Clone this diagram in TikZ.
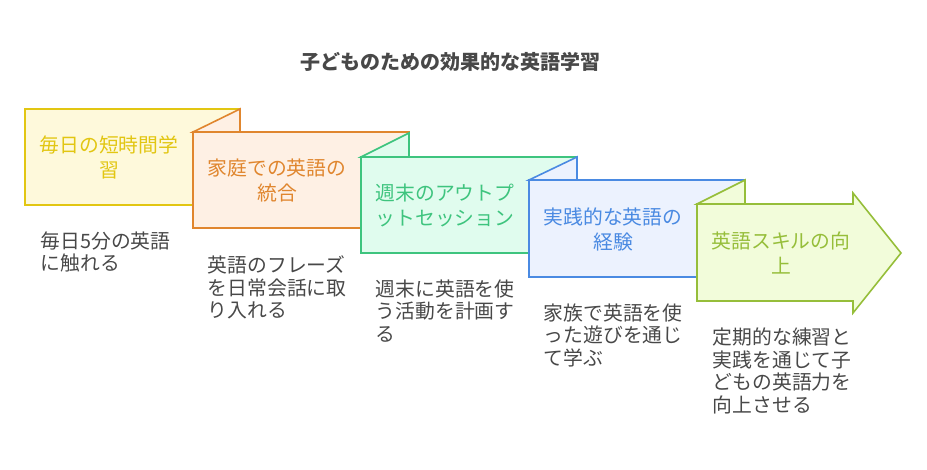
\documentclass[tikz,border=0pt]{standalone}
\usepackage{fontspec}
\newfontfamily\jpfont{Noto Sans CJK JP}
\usepackage{tikz}
\definecolor{textgray}{RGB}{72,72,72}
\definecolor{goldline}{RGB}{226,198,18}
\definecolor{goldfill}{RGB}{254,249,219}
\definecolor{orangeline}{RGB}{224,134,46}
\definecolor{orangefill}{RGB}{254,240,228}
\definecolor{greenline}{RGB}{62,196,126}
\definecolor{greenfill}{RGB}{224,252,238}
\definecolor{blueline}{RGB}{74,138,226}
\definecolor{bluefill}{RGB}{236,242,254}
\definecolor{limeline}{RGB}{150,190,58}
\definecolor{limefill}{RGB}{242,252,218}

\begin{document}
\begin{tikzpicture}[x=1pt,y=-1pt,line width=1.6pt,line join=miter,
  every node/.style={font=\jpfont\fontsize{19.8}{25}\selectfont},
  steplabel/.style={align=center,inner sep=0pt},
  stepnote/.style={anchor=north west,align=left,inner sep=0pt,text=textgray,
    font=\jpfont\fontsize{19.8}{22.5}\selectfont}]
  \useasboundingbox (0,0) rectangle (927,470);
  \node[font=\jpfont\bfseries\fontsize{20}{22}\selectfont,text=textgray] (title) at (450,62) {子どものための効果的な英語学習};
  % step cards, back to front
  \filldraw[draw=goldline,fill=goldfill] (25,109) rectangle (240,205);
  \filldraw[draw=orangeline,fill=orangefill] (193,132) rectangle (409,228);
  \filldraw[draw=orangeline,fill=orangefill] (193,132) -- (240,109) -- (240,132) -- cycle;
  \filldraw[draw=greenline,fill=greenfill] (361,157) rectangle (577,253);
  \filldraw[draw=greenline,fill=greenfill] (361,157) -- (409,133) -- (409,157) -- cycle;
  \filldraw[draw=blueline,fill=bluefill] (529,180) rectangle (745,277);
  \filldraw[draw=blueline,fill=bluefill] (529,180) -- (577,157) -- (577,180) -- cycle;
  \filldraw[draw=limeline,fill=limefill] (697,204) -- (853,204) -- (853,193)
    -- (901,253) -- (853,313) -- (853,301) -- (697,301) -- cycle;
  \filldraw[draw=limeline,fill=limefill] (697,204) -- (745,180) -- (745,204) -- cycle;
  % labels
  \node[steplabel,text=goldline] (daily) at (109,157) {毎日の短時間学\\習};
  \node[steplabel,text=orangeline] (home) at (277,181) {家庭での英語の\\統合};
  \node[steplabel,text=greenline] (weekend) at (445,205) {週末のアウトプ\\ットセッション};
  \node[steplabel,text=blueline] (practice) at (613,229) {実践的な英語の\\経験};
  \node[steplabel,text=limeline] (skill) at (781,253) {英語スキルの向\\上};
  % notes
  \node[stepnote] (dailynote) at (40,231) {毎日5分の英語\\に触れる};
  \node[stepnote] (homenote) at (207,255) {英語のフレーズ\\を日常会話に取\\り入れる};
  \node[stepnote] (weekendnote) at (375,279) {週末に英語を使\\う活動を計画す\\る};
  \node[stepnote] (practicenote) at (543,303) {家族で英語を使\\った遊びを通じ\\て学ぶ};
  \node[stepnote] (skillnote) at (712,327) {定期的な練習と\\実践を通じて子\\どもの英語力を\\向上させる};
\end{tikzpicture}
\end{document}
